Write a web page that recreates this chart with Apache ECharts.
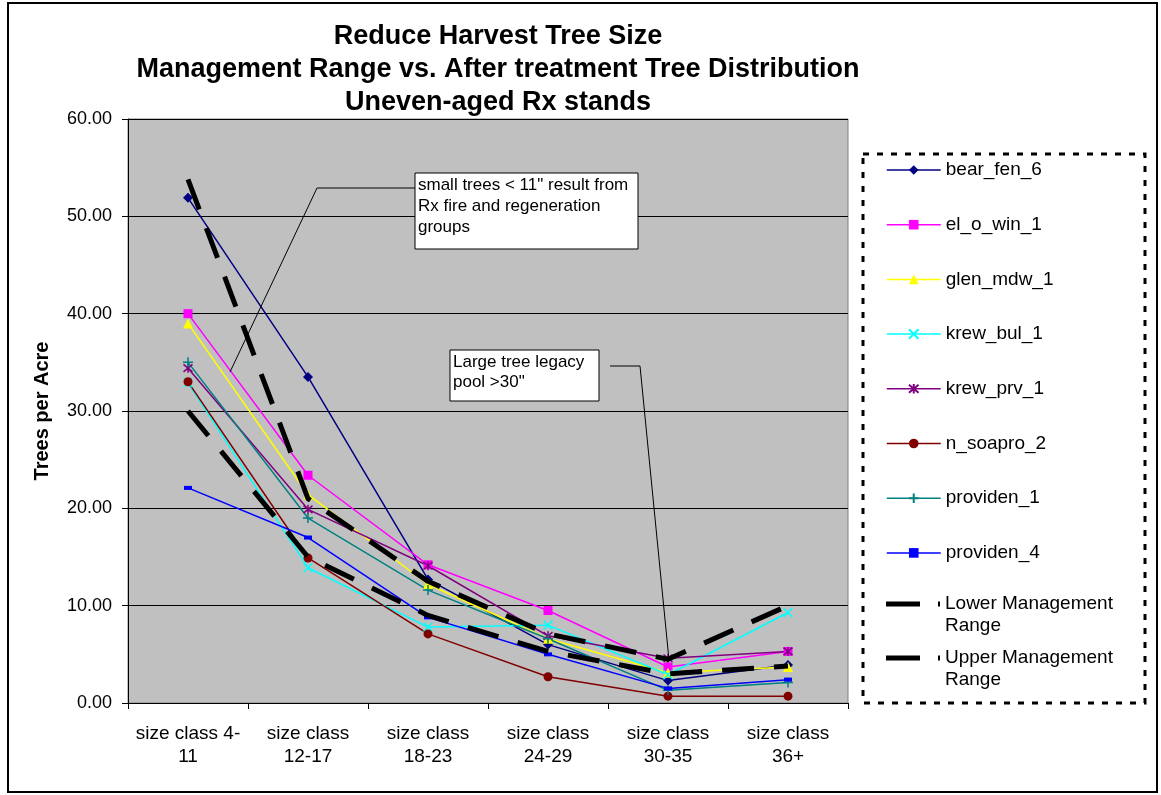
<!DOCTYPE html>
<html>
<head>
<meta charset="utf-8">
<title>Reduce Harvest Tree Size</title>
<script src="https://cdn.jsdelivr.net/npm/echarts@6/dist/echarts.min.js"></script>
<style>
  html, body { margin: 0; padding: 0; background: #ffffff; }
  #chart { width: 1161px; height: 795px; }
</style>
</head>
<body>
<div id="chart"></div>
<script>
// Size classes on the x axis
const categories = ['size class 4-\n11', 'size class\n12-17', 'size class\n18-23', 'size class\n24-29', 'size class\n30-35', 'size class\n36+'];

// Trees per acre after treatment, one array per stand
const bear_fen_6 = [51.9, 33.5, 12.7, 6.0, 2.3, 3.9];
const el_o_win_1 = [40.0, 23.4, 14.2, 9.5, 3.7, 5.3];
const glen_mdw_1 = [39.0, 21.4, 12.2, 6.6, 3.1, 3.7];
const krew_bul_1 = [32.9, 13.9, 7.8, 8.0, 2.9, 9.3];
const krew_prv_1 = [34.4, 19.9, 14.1, 6.9, 4.6, 5.3];
const n_soapro_2 = [33.0, 14.9, 7.1, 2.7, 0.7, 0.7];
const providen_1 = [35.0, 19.0, 11.6, 6.6, 1.3, 2.1];
const providen_4 = [22.1, 17.0, 8.8, 5.0, 1.5, 2.4];

// Management range bounds
const lowerRange = [30.0, 15.0, 9.0, 5.3, 3.0, 3.8];
const upperRange = [53.8, 21.0, 12.5, 7.1, 4.5, 10.0];

// Y axis ticks
const yTicks = [0, 10, 20, 30, 40, 50, 60];

const FONT = 'Arial, "Liberation Sans", sans-serif';

const X_PATH = 'path://M0,0L10,10M10,0L0,10';
const STAR_PATH = 'path://M0,0L10,10M10,0L0,10M5,-1L5,11';
const PLUS_PATH = 'path://M5,0L5,10M0,5L10,5';
// thick dash followed by the start of the next dash
const RANGE_ICON = 'path://M0,0H34V5H0Z M52,0H54V5H52Z';

function stand(name, data, color, symbol, size) {
  return {
    name: name,
    type: 'line',
    data: data,
    symbol: symbol,
    symbolSize: size,
    lineStyle: { color: color, width: 1.5 },
    itemStyle: { color: color, borderColor: color, borderWidth: (symbol.indexOf('path://') === 0 ? 1.5 : 0) },
    emphasis: { disabled: true },
    animation: false,
    z: 2
  };
}

function bound(name, data) {
  return {
    name: name,
    type: 'line',
    data: data,
    symbol: 'none',
    lineStyle: { color: '#000000', width: 5, type: [32, 20] },
    itemStyle: { color: '#000000' },
    emphasis: { disabled: true },
    animation: false,
    z: 3
  };
}

const series = [
  stand('bear_fen_6', bear_fen_6, '#000080', 'diamond', 10),
  stand('el_o_win_1', el_o_win_1, '#FF00FF', 'rect', 9),
  stand('glen_mdw_1', glen_mdw_1, '#FFFF00', 'triangle', 10),
  stand('krew_bul_1', krew_bul_1, '#00FFFF', X_PATH, 9),
  stand('krew_prv_1', krew_prv_1, '#800080', STAR_PATH, 9),
  stand('n_soapro_2', n_soapro_2, '#800000', 'circle', 9),
  stand('providen_1', providen_1, '#008080', PLUS_PATH, 10),
  stand('providen_4', providen_4, '#0000FF', 'rect', [8, 4]),
  bound('Lower Management Range', lowerRange),
  bound('Upper Management Range', upperRange)
];

const legendText = { color: '#000000', fontFamily: FONT, fontSize: 19, lineHeight: 20 };
const rangeText = { color: '#000000', fontFamily: FONT, fontSize: 19, lineHeight: 22 };
// an empty first line keeps the first text line level with the icon
const splitRange = function (name) { return ' \n' + name.replace(' Range', '\nRange'); };

function rangeLegend(name, top) {
  return {
    data: [{ name: name, icon: RANGE_ICON }],
    orient: 'vertical', left: 886, top: top, padding: 0,
    itemWidth: 54, itemHeight: 5, itemGap: 0,
    formatter: splitRange, textStyle: rangeText, selectedMode: false
  };
}

const option = {
  backgroundColor: '#ffffff',
  animation: false,
  title: {
    text: 'Reduce Harvest Tree Size\nManagement Range vs. After treatment Tree Distribution\nUneven-aged Rx stands',
    left: 498,
    top: 20,
    textAlign: 'center',
    padding: 0,
    textStyle: { fontFamily: FONT, fontSize: 27, fontWeight: 'bold', color: '#000000', lineHeight: 33 }
  },
  grid: {
    left: 128, right: 313, top: 119, bottom: 92,
    show: true,
    backgroundColor: '#C0C0C0',
    borderColor: '#808080',
    borderWidth: 1
  },
  legend: [
    {
      data: series.slice(0, 8).map(s => s.name),
      orient: 'vertical', left: 886, top: 160, padding: 0,
      itemWidth: 54, itemHeight: 12, itemGap: 34.7,
      lineStyle: { width: 1.5 },
      textStyle: legendText, selectedMode: false
    },
    rangeLegend('Lower Management Range', 571),
    rangeLegend('Upper Management Range', 625)
  ],
  xAxis: {
    type: 'category',
    data: categories,
    boundaryGap: true,
    axisLine: { lineStyle: { color: '#000000', width: 1 } },
    axisTick: { show: true, length: 6, lineStyle: { color: '#000000' } },
    axisLabel: { color: '#000000', fontFamily: FONT, fontSize: 19, lineHeight: 23, margin: 19, interval: 0 },
    splitLine: { show: false }
  },
  yAxis: {
    type: 'value',
    min: yTicks[0], max: yTicks[yTicks.length - 1], interval: yTicks[1] - yTicks[0],
    name: 'Trees per Acre',
    nameLocation: 'middle',
    nameGap: 76,
    nameTextStyle: { fontFamily: FONT, fontSize: 20, fontWeight: 'bold', color: '#000000' },
    axisLine: { show: true, lineStyle: { color: '#000000', width: 1 } },
    axisTick: { show: true, length: 6, lineStyle: { color: '#000000' } },
    axisLabel: { color: '#000000', fontFamily: FONT, fontSize: 18, margin: 16, formatter: v => v.toFixed(2) },
    splitLine: { show: true, lineStyle: { color: '#000000', width: 1 } }
  },
  series: series,
  graphic: [
    // outer chart border
    { type: 'rect', shape: { x: 8, y: 3, width: 1149, height: 789 }, style: { fill: 'none', stroke: '#000000', lineWidth: 2 }, z: 100 },
    // legend frame
    { type: 'rect', shape: { x: 863, y: 154, width: 282, height: 549 }, style: { fill: 'none', stroke: '#000000', lineWidth: 3, lineDash: [6, 8] }, z: 100 },
    // callout: small trees
    { type: 'polyline', shape: { points: [[230, 372], [317, 188], [415, 188]] }, style: { stroke: '#000000', lineWidth: 1, fill: 'none' }, z: 50 },
    { type: 'rect', shape: { x: 415, y: 173, width: 223, height: 76 }, style: { fill: '#ffffff', stroke: '#000000', lineWidth: 1 }, z: 51 },
    { type: 'text', x: 418, y: 175, style: { text: 'small trees < 11" result from\nRx fire and regeneration\ngroups', fontFamily: FONT, fontSize: 17, lineHeight: 21, fill: '#000000' }, z: 52 },
    // callout: large tree legacy pool
    { type: 'polyline', shape: { points: [[669, 660], [640, 366], [610, 366]] }, style: { stroke: '#000000', lineWidth: 1, fill: 'none' }, z: 50 },
    { type: 'rect', shape: { x: 450, y: 350, width: 149, height: 51 }, style: { fill: '#ffffff', stroke: '#000000', lineWidth: 1 }, z: 51 },
    { type: 'text', x: 453, y: 352, style: { text: 'Large tree legacy\npool >30"', fontFamily: FONT, fontSize: 17, lineHeight: 20, fill: '#000000' }, z: 52 }
  ]
};

const chart = echarts.init(document.getElementById('chart'), null, { renderer: 'canvas' });
chart.setOption(option);
</script>
</body>
</html>
